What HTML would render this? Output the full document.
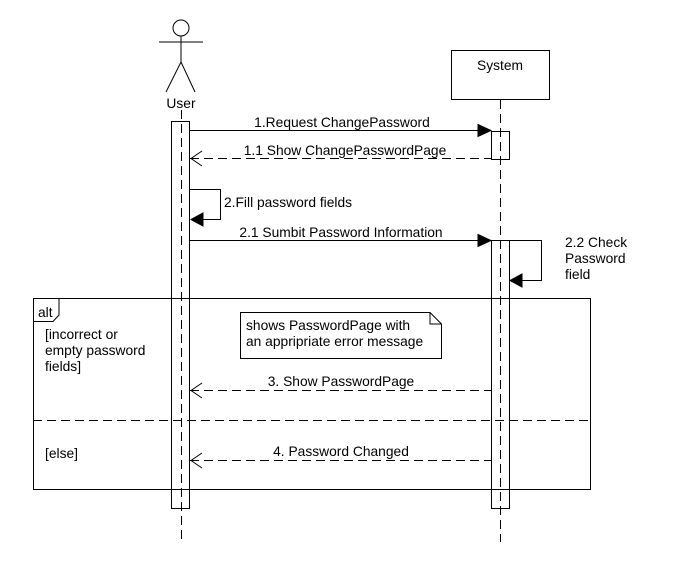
<!DOCTYPE html>
<html><head><style>html,body{margin:0;padding:0;background:#fff}svg{display:block}</style></head><body>
<svg width="680" height="580" xmlns="http://www.w3.org/2000/svg" font-family="Liberation Sans, sans-serif" font-size="13.8" fill="none" stroke="#000" stroke-width="1">
<rect x="0" y="0" width="680" height="580" fill="#fff" stroke="none"/>
<!-- actor -->
<circle cx="181" cy="28" r="8"/>
<line x1="181" y1="36" x2="181" y2="62"/>
<line x1="159" y1="42" x2="203" y2="42"/>
<line x1="181" y1="62" x2="166" y2="92"/>
<line x1="181" y1="62" x2="195" y2="92"/>
<text x="181" y="108" text-anchor="middle" fill="#000" stroke="none">User</text>
<!-- system -->
<rect x="451.5" y="50.5" width="98" height="49"/>
<text x="500" y="70" text-anchor="middle" fill="#000" stroke="none">System</text>
<!-- activations -->
<rect x="171.5" y="121.5" width="18" height="387" fill="#fff"/>
<rect x="491.5" y="240.5" width="18" height="268" fill="#fff"/>
<rect x="491.5" y="131.5" width="18" height="28" fill="#fff"/>
<!-- lifelines -->
<line x1="181.5" y1="110" x2="181.5" y2="542" stroke-dasharray="9,5"/>
<line x1="500.5" y1="100" x2="500.5" y2="542" stroke-dasharray="9,5"/>
<!-- alt frame -->
<rect x="33.5" y="298.5" width="557" height="191"/>
<path d="M33.5 321.5 H53 L59 315 V298.5"/>
<text x="38" y="317" fill="#000" stroke="none">alt</text>
<line x1="33" y1="420.5" x2="591" y2="420.5" stroke-dasharray="9,5"/>
<text fill="#000" stroke="none"><tspan x="45" y="339">[incorrect or</tspan><tspan x="45" y="355">empty password</tspan><tspan x="45" y="371">fields]</tspan><tspan x="45" y="458">[else]</tspan></text>
<!-- note -->
<path d="M240.5 312.5 H430 L441.5 324 V358.5 H240.5 Z M430 312.5 V324 H441.5" fill="#fff"/>
<text fill="#000" stroke="none"><tspan x="246" y="330">shows PasswordPage with</tspan><tspan x="246" y="346">an appripriate error message</tspan></text>
<!-- msg 1 -->
<line x1="190" y1="130.5" x2="480" y2="130.5"/>
<path d="M478 124.5 L491 130.5 L478 136.5 Z" fill="#000"/>
<text x="342" y="127" text-anchor="middle" fill="#000" stroke="none">1.Request ChangePassword</text>
<!-- 1.1 -->
<line x1="190" y1="158.5" x2="491" y2="158.5" stroke-dasharray="9,5"/>
<path d="M202 151 L191 158.5 L202 166"/>
<text x="345" y="155" text-anchor="middle" fill="#000" stroke="none">1.1 Show ChangePasswordPage</text>
<!-- self 2 -->
<path d="M190 189.5 H220.5 V219.5 H192"/>
<path d="M203 213 L191 219.5 L203 226 Z" fill="#000"/>
<text x="224" y="207" fill="#000" stroke="none">2.Fill password fields</text>
<!-- 2.1 -->
<line x1="190" y1="240.5" x2="480" y2="240.5"/>
<path d="M478 234.5 L491 240.5 L478 246.5 Z" fill="#000"/>
<text x="341" y="237" text-anchor="middle" fill="#000" stroke="none">2.1 Sumbit Password Information</text>
<!-- 2.2 -->
<path d="M510 240.5 H541.5 V280.5 H512"/>
<path d="M522 274 L510 280.5 L522 287 Z" fill="#000"/>
<text fill="#000" stroke="none"><tspan x="565" y="247">2.2 Check</tspan><tspan x="565" y="263">Password</tspan><tspan x="565" y="279">field</tspan></text>
<!-- 3 -->
<line x1="190" y1="390.5" x2="491" y2="390.5" stroke-dasharray="9,5"/>
<path d="M202 383 L191 390.5 L202 398"/>
<text x="341" y="386" text-anchor="middle" fill="#000" stroke="none">3. Show PasswordPage</text>
<!-- 4 -->
<line x1="190" y1="460.5" x2="491" y2="460.5" stroke-dasharray="9,5"/>
<path d="M202 453 L191 460.5 L202 468"/>
<text x="341" y="456" text-anchor="middle" fill="#000" stroke="none">4. Password Changed</text>
</svg>
</body></html>
